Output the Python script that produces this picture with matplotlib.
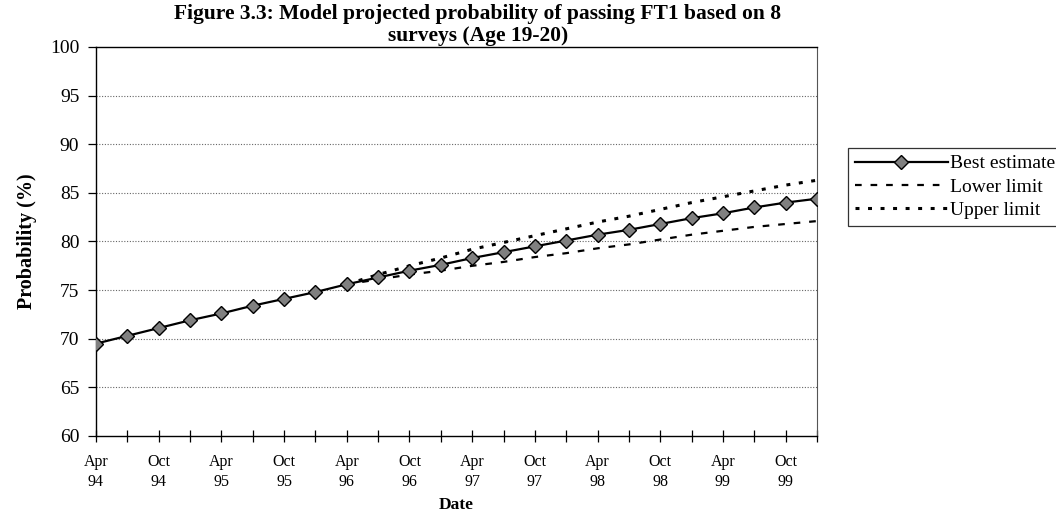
import numpy as np
import matplotlib
matplotlib.use("Agg")
import matplotlib.pyplot as plt

plt.rcParams['font.family'] = ['Liberation Serif', 'DejaVu Serif']

# quarterly dates, Apr 94 .. Jan 00
quarters = ["Apr 94", "Jul 94", "Oct 94", "Jan 95", "Apr 95", "Jul 95", "Oct 95", "Jan 96",
            "Apr 96", "Jul 96", "Oct 96", "Jan 97", "Apr 97", "Jul 97", "Oct 97", "Jan 98",
            "Apr 98", "Jul 98", "Oct 98", "Jan 99", "Apr 99", "Jul 99", "Oct 99", "Jan 00"]
best = [69.5, 70.3, 71.1, 71.9, 72.6, 73.4, 74.1, 74.8, 75.6, 76.3, 77.0, 77.6,
        78.3, 78.9, 79.5, 80.1, 80.7, 81.2, 81.8, 82.4, 82.9, 83.5, 84.0, 84.4]
# limits only from Apr 96 onwards
limit_start = 8
lower = [75.6, 76.1, 76.6, 77.0, 77.5, 77.9, 78.4, 78.8, 79.3, 79.7, 80.2, 80.7, 81.1, 81.5, 81.8, 82.1]
upper = [75.6, 76.6, 77.5, 78.3, 79.2, 79.9, 80.6, 81.3, 82.0, 82.6, 83.3, 84.0, 84.6, 85.2, 85.8, 86.3]

x = np.arange(len(quarters))
xl = x[limit_start:]

fig = plt.figure(figsize=(10.56, 5.28), dpi=100)
ax = fig.add_axes([96/1056, 1-436/528, (817-96)/1056, (436-47)/528])

ax.plot(x, best, color='black', lw=1.6, marker='D', markersize=7,
        markerfacecolor='#808080', markeredgecolor='black', markeredgewidth=1.0,
        label='Best estimate', zorder=3)
ax.plot(xl, lower, color='black', lw=1.6, linestyle=(0, (3, 4)), label='Lower limit')
ax.plot(xl, upper, color='black', lw=2.2, linestyle=(0, (1.3, 2.8)), label='Upper limit')

ax.set_xlim(0, len(quarters) - 1)
ax.set_ylim(60, 100)
ax.set_yticks(np.arange(60, 101, 5))
ax.set_xticks(x)
ax.set_xticklabels([q.replace(" ", "\n") if i % 2 == 0 else "" for i, q in enumerate(quarters)],
                   fontsize=11.5, linespacing=1.35)
ax.tick_params(axis='x', direction='inout', length=8, width=0.9, pad=9)
ax.tick_params(axis='y', direction='out', length=6, width=0.9, labelsize=14, pad=6)

for yv in range(65, 100, 5):
    ax.axhline(yv, color='#666666', lw=0.8, linestyle=(0, (1, 1.5)), zorder=1)

for s in ['left', 'bottom', 'top']:
    ax.spines[s].set_color('black')
    ax.spines[s].set_linewidth(1.0)
ax.spines['right'].set_color('#555555')
ax.spines['right'].set_linestyle((0, (1, 1)))

ax.set_ylabel("Probability (%)", fontsize=14.5, fontweight='bold', labelpad=9)
ax.set_xlabel("Date", fontsize=12.5, fontweight='bold', labelpad=5)
fig.text(478/1056, 1-25/528, "Figure 3.3: Model projected probability of passing FT1 based on 8\nsurveys (Age 19-20)",
         ha='center', va='center', fontsize=15.5, fontweight='bold', linespacing=1.15)

leg = fig.legend(loc='upper left', bbox_to_anchor=(848/1056, 1-148/528), fontsize=14,
                 frameon=True, fancybox=False, edgecolor='black', handlelength=4.8,
                 handletextpad=0.1, borderpad=0.35, labelspacing=0.3, borderaxespad=0)
leg.get_frame().set_linewidth(0.9)

fig.savefig("out.png", dpi=100)
